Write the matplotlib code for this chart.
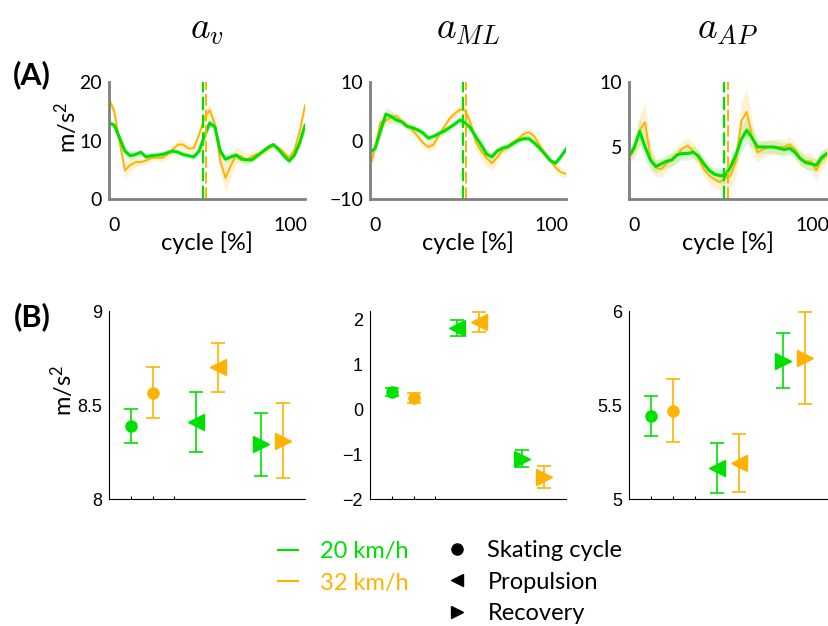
import matplotlib
matplotlib.use("Agg")
import matplotlib.pyplot as plt
from matplotlib.lines import Line2D
import numpy as np

plt.rcParams['mathtext.fontset'] = 'custom'
plt.rcParams['mathtext.rm'] = 'Lato'
plt.rcParams['mathtext.it'] = 'Lato:italic'

GREEN = '#00e000'
ORANGE = '#ffb200'

# cycle [%] sample points
cycle = [-2, 0, 3, 6, 9, 12, 15, 18, 21, 24, 27, 30, 33, 36, 39, 42, 45, 48, 51, 54,
         57, 60, 63, 66, 69, 72, 75, 78, 81, 84, 87, 90, 93, 96, 99, 102, 105, 108]

# a_v mean curves
av_20 = [12.9, 12.6, 10.4, 8.2, 7.4, 7.6, 8.0, 7.2, 7.4, 7.5, 7.6, 7.9, 8.2, 8.0, 7.6, 7.4, 7.2, 8.2, 10.7, 13.0,
         12.3, 8.2, 6.8, 7.2, 7.5, 6.8, 6.7, 6.7, 7.4, 8.1, 8.8, 9.3, 8.5, 7.4, 6.5, 7.5, 9.6, 12.6]
av_32 = [16.4, 14.9, 9.8, 4.9, 5.8, 6.3, 6.3, 6.6, 7.0, 7.1, 7.0, 7.6, 8.4, 9.3, 9.3, 8.6, 8.7, 11.0, 13.8, 15.2,
         12.8, 6.5, 3.6, 5.7, 7.5, 7.3, 6.6, 7.3, 7.7, 8.0, 8.6, 9.1, 8.7, 8.0, 7.0, 8.4, 11.5, 16.0]
av_20_sd = [0.6, 0.6, 0.9, 0.9, 0.8, 0.6, 0.5, 0.5, 0.5, 0.5, 0.5, 0.5, 0.5, 0.5, 0.5, 0.5, 0.5, 0.6, 0.8, 0.8,
            0.8, 0.8, 0.7, 0.8, 0.6, 0.6, 0.5, 0.5, 0.5, 0.5, 0.5, 0.5, 0.5, 0.5, 0.5, 0.6, 0.7, 0.8]
av_32_sd = [0.8, 0.8, 1.2, 1.5, 1.2, 0.8, 0.6, 0.6, 0.6, 0.6, 0.6, 0.7, 0.8, 0.8, 0.8, 0.7, 0.7, 0.8, 1.0, 1.2,
            1.5, 2.0, 2.5, 2.0, 1.5, 1.2, 1.0, 0.8, 0.7, 0.6, 0.6, 0.6, 0.6, 0.6, 0.6, 0.7, 0.8, 0.8]

# a_ML mean curves
aml_20 = [-1.8, -1.3, 1.7, 4.5, 4.1, 3.5, 3.2, 2.4, 2.2, 1.8, 1.3, 0.4, 0.7, 1.2, 1.6, 2.2, 2.8, 3.5, 3.0, 2.1,
          0.6, -0.8, -2.3, -2.8, -1.8, -1.3, -1.1, -0.5, 0.0, 0.3, 0.3, -0.4, -1.3, -2.3, -3.4, -3.9, -2.8, -1.5]
aml_32 = [-3.5, -1.0, 3.2, 3.4, 4.0, 4.2, 3.2, 2.6, 1.8, 0.7, -0.4, -1.1, -0.7, 0.9, 2.3, 3.7, 4.6, 5.3, 5.1, 2.9,
          -0.3, -1.8, -3.0, -3.9, -2.9, -1.7, -1.0, -0.3, 0.3, 1.1, 1.4, 0.7, -0.8, -2.2, -3.3, -4.6, -5.4, -5.7]
aml_20_sd = [0.6, 0.6, 0.8, 1.2, 1.0, 0.7, 0.6, 0.6, 0.7, 0.7, 0.6, 0.6, 0.6, 0.6, 0.6, 0.6, 0.6, 0.6, 0.7, 0.8,
             1.0, 1.2, 1.0, 0.8, 0.7, 0.7, 0.6, 0.6, 0.6, 0.6, 0.6, 0.6, 0.6, 0.6, 0.6, 0.6, 0.6, 0.6]
aml_32_sd = [0.8, 0.8, 0.9, 0.9, 0.8, 0.7, 0.7, 0.7, 0.7, 0.7, 0.7, 0.8, 0.8, 0.7, 0.7, 0.7, 0.7, 0.8, 0.9, 1.0,
             1.3, 1.5, 1.5, 1.2, 0.9, 0.8, 0.7, 0.7, 0.7, 0.7, 0.7, 0.7, 0.7, 0.7, 0.7, 0.7, 0.7, 0.7]

# a_AP mean curves
aap_20 = [4.5, 5.0, 6.2, 5.0, 4.0, 3.5, 3.7, 3.9, 4.0, 4.4, 4.5, 4.5, 4.6, 4.3, 3.7, 3.2, 2.9, 2.8, 2.8, 3.5,
          4.4, 5.6, 6.3, 5.7, 5.0, 5.0, 5.0, 5.0, 4.9, 4.8, 4.9, 4.6, 4.1, 3.8, 3.7, 3.6, 4.2, 4.5]
aap_32 = [4.4, 4.8, 6.3, 6.9, 4.2, 3.4, 3.3, 3.7, 4.1, 4.4, 4.9, 5.1, 4.7, 4.1, 3.3, 2.8, 2.5, 2.3, 2.6, 2.8,
          4.0, 7.0, 7.7, 5.8, 4.6, 4.8, 5.0, 5.0, 5.0, 5.0, 5.2, 4.8, 4.2, 3.9, 3.9, 3.2, 4.0, 4.4]
aap_20_sd = [0.5, 0.6, 1.0, 1.0, 0.7, 0.5, 0.5, 0.5, 0.5, 0.5, 0.5, 0.5, 0.5, 0.5, 0.5, 0.5, 0.5, 0.6, 0.6, 0.7,
             0.8, 1.0, 1.0, 0.8, 0.6, 0.5, 0.5, 0.5, 0.5, 0.5, 0.5, 0.5, 0.5, 0.5, 0.5, 0.5, 0.5, 0.5]
aap_32_sd = [0.6, 0.7, 1.2, 1.5, 1.0, 0.7, 0.6, 0.6, 0.6, 0.6, 0.6, 0.6, 0.6, 0.6, 0.6, 0.6, 0.6, 0.7, 0.8, 0.9,
             1.2, 1.5, 1.8, 1.3, 0.8, 0.6, 0.6, 0.6, 0.6, 0.6, 0.6, 0.6, 0.6, 0.6, 0.7, 0.8, 0.7, 0.6]

# end of propulsion phase [%]
split_20 = [50, 49.5, 50.3]
split_32 = [52, 51.5, 52.5]

titles = [r'$a_v$', r'$a_{ML}$', r'$a_{AP}$']
top_ylims = [(0, 20), (-10, 10), (1, 10)]
top_yticks = [[0, 10, 20], [-10, 0, 10], [5, 10]]
top_curves = [(av_20, av_20_sd, av_32, av_32_sd),
              (aml_20, aml_20_sd, aml_32, aml_32_sd),
              (aap_20, aap_20_sd, aap_32, aap_32_sd)]

# (B) phase means and SD: skating cycle, propulsion, recovery
pos_20 = [1, 4, 7]
pos_32 = [2, 5, 8]
markers = ['o', '<', '>']
msizes = [8, 12, 12]
b_mean_20 = [[8.39, 8.41, 8.29], [0.40, 1.82, -1.10], [5.44, 5.165, 5.735]]
b_sd_20 = [[0.09, 0.16, 0.17], [0.09, 0.17, 0.19], [0.107, 0.135, 0.147]]
b_mean_32 = [[8.565, 8.70, 8.31], [0.25, 1.95, -1.51], [5.47, 5.19, 5.75]]
b_sd_32 = [[0.135, 0.13, 0.20], [0.115, 0.22, 0.24], [0.166, 0.155, 0.247]]
b_ylims = [(8, 9), (-2, 2.2), (5, 6)]
b_yticks = [[8, 8.5, 9], [-2, -1, 0, 1, 2], [5, 5.5, 6]]
b_yticklabels = [['8', '8.5', '9'], ['\u22122', '\u22121', '0', '1', '2'], ['5', '5.5', '6']]

fig = plt.figure(figsize=(8.29, 6.26), dpi=100)

lefts = [109 / 829, 370 / 829, 629 / 829]
widths = [196 / 829, 196 / 829, 198 / 829]

for i in range(3):
    ax = fig.add_axes([lefts[i], 1 - 199 / 626, widths[i], 117 / 626])
    m20, s20, m32, s32 = [np.array(c) for c in top_curves[i]]
    ax.fill_between(cycle, m32 - s32, m32 + s32, color=ORANGE, alpha=0.18, lw=0)
    ax.fill_between(cycle, m20 - s20, m20 + s20, color=GREEN, alpha=0.15, lw=0)
    ax.plot(cycle, m32, color=ORANGE, lw=1.4)
    ax.plot(cycle, m20, color=GREEN, lw=2.2)
    ax.axvline(split_20[i], color=GREEN, lw=1.6, ls=(0, (6, 2)))
    ax.axvline(split_32[i], color=ORANGE, lw=1.4, ls=(0, (6, 2)))
    ax.set_xlim(-3, 108)
    ax.set_ylim(*top_ylims[i])
    ax.set_xticks([0, 100])
    ax.set_yticks(top_yticks[i])
    for s in ['top', 'right']:
        ax.spines[s].set_visible(False)
    for s in ['left', 'bottom']:
        ax.spines[s].set_color('#808080')
        ax.spines[s].set_linewidth(2)
    ax.tick_params(axis='x', length=0, pad=13, labelsize=14)
    ax.tick_params(axis='y', length=0, pad=5, labelsize=14)
    for lab in ax.get_xticklabels() + ax.get_yticklabels():
        lab.set_family('Lato')
    ax.set_xlabel('cycle [%]', family='Lato', fontsize=17)
    ax.xaxis.set_label_coords(0.5, -0.28)
    ax.text(0.5, 1.45, titles[i], transform=ax.transAxes, ha='center', va='center', fontsize=27,
            math_fontfamily='cm')

for i in range(3):
    ax = fig.add_axes([lefts[i], 1 - 499 / 626, widths[i], 188 / 626])
    for k in range(3):
        ax.errorbar(pos_20[k], b_mean_20[i][k], yerr=b_sd_20[i][k], fmt=markers[k], color=GREEN,
                    ms=msizes[k], capsize=5, elinewidth=1.2, capthick=1.2)
        ax.errorbar(pos_32[k], b_mean_32[i][k], yerr=b_sd_32[i][k], fmt=markers[k], color=ORANGE,
                    ms=msizes[k], capsize=5, elinewidth=1.2, capthick=1.2)
    ax.set_xlim(0, 9)
    ax.set_ylim(*b_ylims[i])
    ax.set_xticks([1, 2, 3])
    ax.set_xticklabels([])
    ax.set_yticks(b_yticks[i])
    ax.set_yticklabels(b_yticklabels[i], family='Liberation Sans', fontsize=13)
    for s in ['top', 'right']:
        ax.spines[s].set_visible(False)
    ax.tick_params(axis='both', direction='in', length=2.5, width=0.8)
    ax.tick_params(axis='y', pad=5, length=0)

fig.text(32 / 829, 1 - 75 / 626, '(A)', fontsize=22, fontweight='bold', family='Lato', ha='center', va='center')
fig.text(32 / 829, 1 - 317 / 626, '(B)', fontsize=22, fontweight='bold', family='Lato', ha='center', va='center')
fig.text(66 / 829, 1 - 127 / 626, r'm/s$^{2}$', rotation=90, fontsize=17, family='Lato', ha='center', va='center')
fig.text(62 / 829, 1 - 390 / 626, r'm/s$^{2}$', rotation=90, fontsize=17, family='Lato', ha='center', va='center')

speed_handles = [Line2D([], [], color=GREEN, lw=1.5), Line2D([], [], color=ORANGE, lw=1.5)]
fig.legend(speed_handles, ['20 km/h', '32 km/h'], loc='upper left', bbox_to_anchor=(278 / 829, 1 - 541 / 626),
           frameon=False, labelcolor=[GREEN, ORANGE], prop={'family': 'Lato', 'size': 17},
           handlelength=0.85, handletextpad=0.95, borderpad=0, borderaxespad=0, labelspacing=0.45)

phase_handles = [Line2D([], [], color='black', ls='none', marker='o', ms=8),
                 Line2D([], [], color='black', ls='none', marker='<', ms=9),
                 Line2D([], [], color='black', ls='none', marker='>', ms=9)]
fig.legend(phase_handles, ['Skating cycle', 'Propulsion', 'Recovery'], loc='upper left',
           bbox_to_anchor=(445 / 829, 1 - 540 / 626), frameon=False, prop={'family': 'Lato', 'size': 17},
           handlelength=1.0, handletextpad=0.8, borderpad=0, borderaxespad=0, labelspacing=0.45)

fig.savefig('out.png', dpi=100)
